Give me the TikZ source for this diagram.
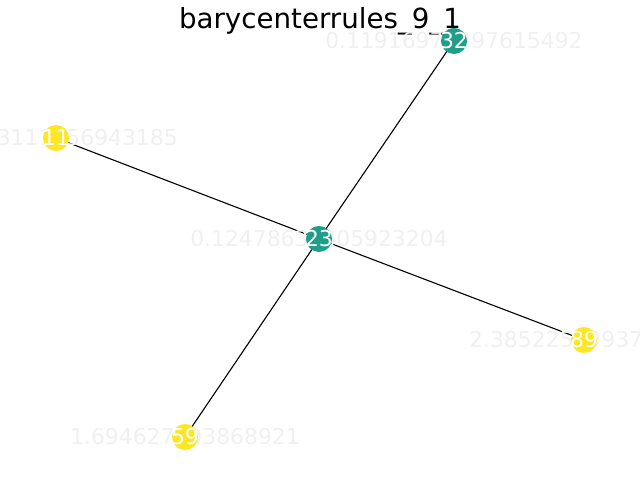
\documentclass[tikz,border=0pt]{standalone}
\usepackage{fontspec}
\setmainfont{DejaVu Sans}
\definecolor{teal}{HTML}{1F9E89}
\definecolor{gold}{HTML}{FDE725}
\definecolor{faint}{RGB}{240,240,240}
\begin{document}
\begin{tikzpicture}[x=0.01in,y=-0.01in,
  vert/.style={circle,inner sep=0pt,minimum size=0.26in},
  idtext/.style={inner sep=0pt,text=white,font=\fontsize{15.8pt}{16pt}\selectfont},
  weight/.style={inner sep=0pt,text=faint,font=\fontsize{15.8pt}{16pt}\selectfont},
  link/.style={draw=black,line width=0.8pt}]
\useasboundingbox (0,0) rectangle (640,480);
\node[anchor=base,inner sep=0pt,font=\fontsize{20pt}{24pt}\selectfont] (title) at (320,29) {barycenterrules\_9\_1};
% vertex positions
\coordinate (p32) at (454,41);
\coordinate (p11) at (56,138);
\coordinate (p23) at (319,239);
\coordinate (p89) at (584,340);
\coordinate (p59) at (185,437);
% edges
\draw[link] (p23) -- (p32);
\draw[link] (p23) -- (p11);
\draw[link] (p23) -- (p89);
\draw[link] (p23) -- (p59);
% weights
\node[weight] (w32) at (p32) {0.11916975297615492};
\node[weight] (w11) at (p11) {1.1653111156943185};
\node[weight] (w23) at (p23) {0.12478632305923204};
\node[weight] (w89) at (p89) {2.385225899374216};
\node[weight] (w59) at (p59) {1.694627593868921};
% vertices
\node[vert,fill=teal] (n32) at (p32) {};
\node[vert,fill=gold] (n11) at (p11) {};
\node[vert,fill=teal] (n23) at (p23) {};
\node[vert,fill=gold] (n89) at (p89) {};
\node[vert,fill=gold] (n59) at (p59) {};
% vertex ids
\node[idtext] (l32) at (p32) {32};
\node[idtext] (l11) at (p11) {11};
\node[idtext] (l23) at (p23) {23};
\node[idtext] (l89) at (p89) {89};
\node[idtext] (l59) at (p59) {59};
\end{tikzpicture}
\end{document}
